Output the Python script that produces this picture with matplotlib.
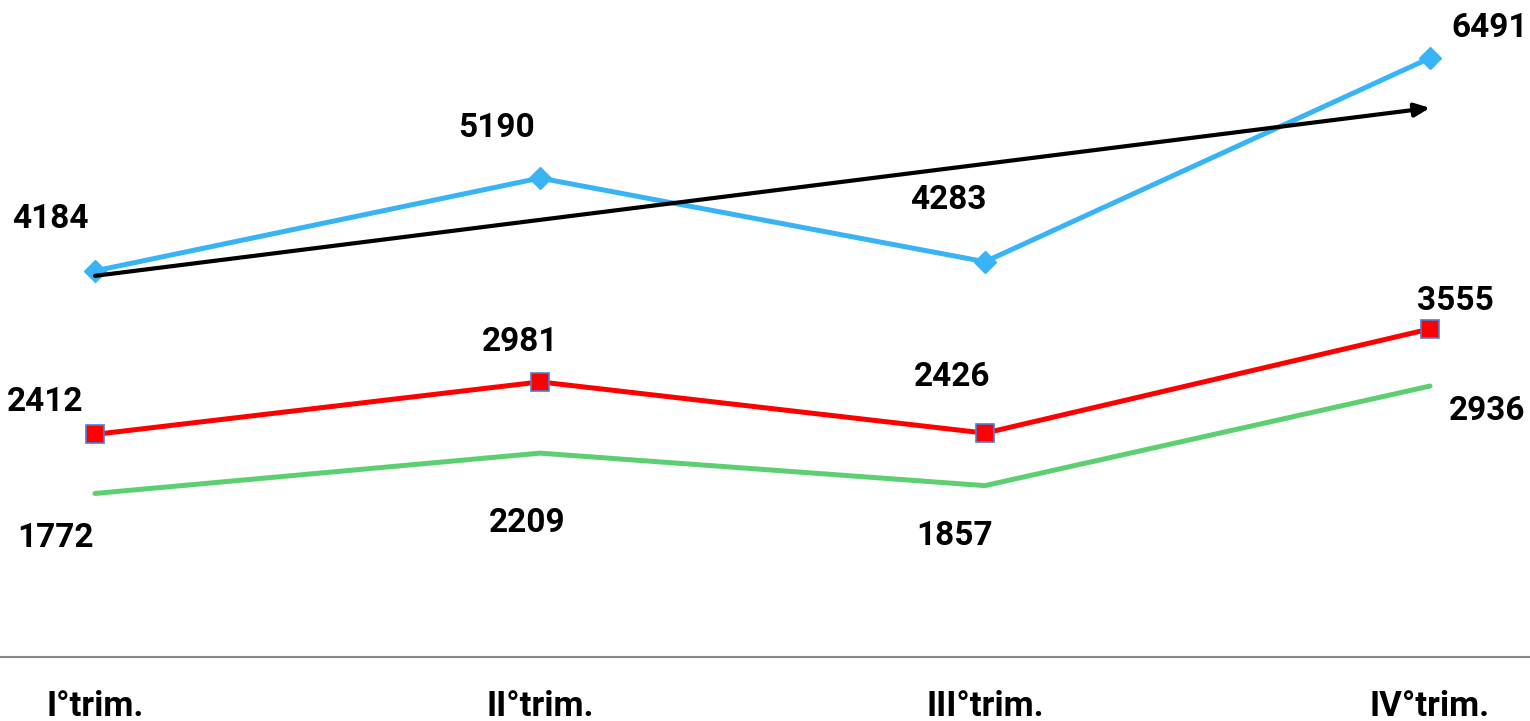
import matplotlib
matplotlib.use("Agg")
import matplotlib.pyplot as plt

# data
quarters = ["I°trim.", "II°trim.", "III°trim.", "IV°trim."]
blue_vals = [4184, 5190, 4283, 6491]
red_vals = [2412, 2981, 2426, 3555]
green_vals = [1772, 2209, 1857, 2936]
trend_start = 4130
trend_end = 5950

# label offsets in pixels (dx, dy) relative to the point
blue_off = [(-45, 52), (-43, 50), (-37, 62), (60, 30)]
red_off = [(-50, 32), (-20, 40), (-33, 56), (25, 28)]
green_off = [(-40, -45), (-13, -70), (-30, -50), (57, -25)]

plt.rcParams["font.family"] = ["Roboto", "DejaVu Sans"]

fig = plt.figure(figsize=(15.3, 7.21), dpi=100)
ax = fig.add_axes([0, 64 / 721, 1, 646 / 721])
x = list(range(len(quarters)))

ax.plot(x, blue_vals, color="#38b4f6", lw=3.6, marker="D", ms=11,
        solid_capstyle="round", zorder=3)
ax.plot(x, red_vals, color="#ff0000", lw=3.6, marker="s", ms=13,
        mec="#4a7fd6", mew=1.2, zorder=3)
ax.plot(x, green_vals, color="#5ccf70", lw=3.6, solid_capstyle="round", zorder=3)

# trend arrow
ax.annotate("", xy=(3, trend_end), xytext=(0, trend_start),
            arrowprops=dict(arrowstyle="-|>,head_length=0.9,head_width=0.4",
                            color="black", lw=3, shrinkA=0, shrinkB=0),
            zorder=4)

def put_labels(vals, offs):
    for i, (v, o) in enumerate(zip(vals, offs)):
        ax.annotate(str(v), (i, v), xytext=o, textcoords="offset pixels",
                    ha="center", va="center", fontsize=24, fontweight="bold")

put_labels(blue_vals, blue_off)
put_labels(red_vals, red_off)
put_labels(green_vals, green_off)

ax.set_xlim(-95 / 445, (1530 - 95) / 445)
ax.set_ylim(0, 7000)
ax.set_yticks([])
ax.set_xticks(x)
ax.set_xticklabels(quarters, fontsize=25, fontweight="bold")
ax.tick_params(axis="x", length=0, pad=24)
for s in ["top", "right", "left"]:
    ax.spines[s].set_visible(False)
ax.spines["bottom"].set_color("#888888")
ax.spines["bottom"].set_linewidth(1.5)

fig.savefig("out.png", dpi=100)
